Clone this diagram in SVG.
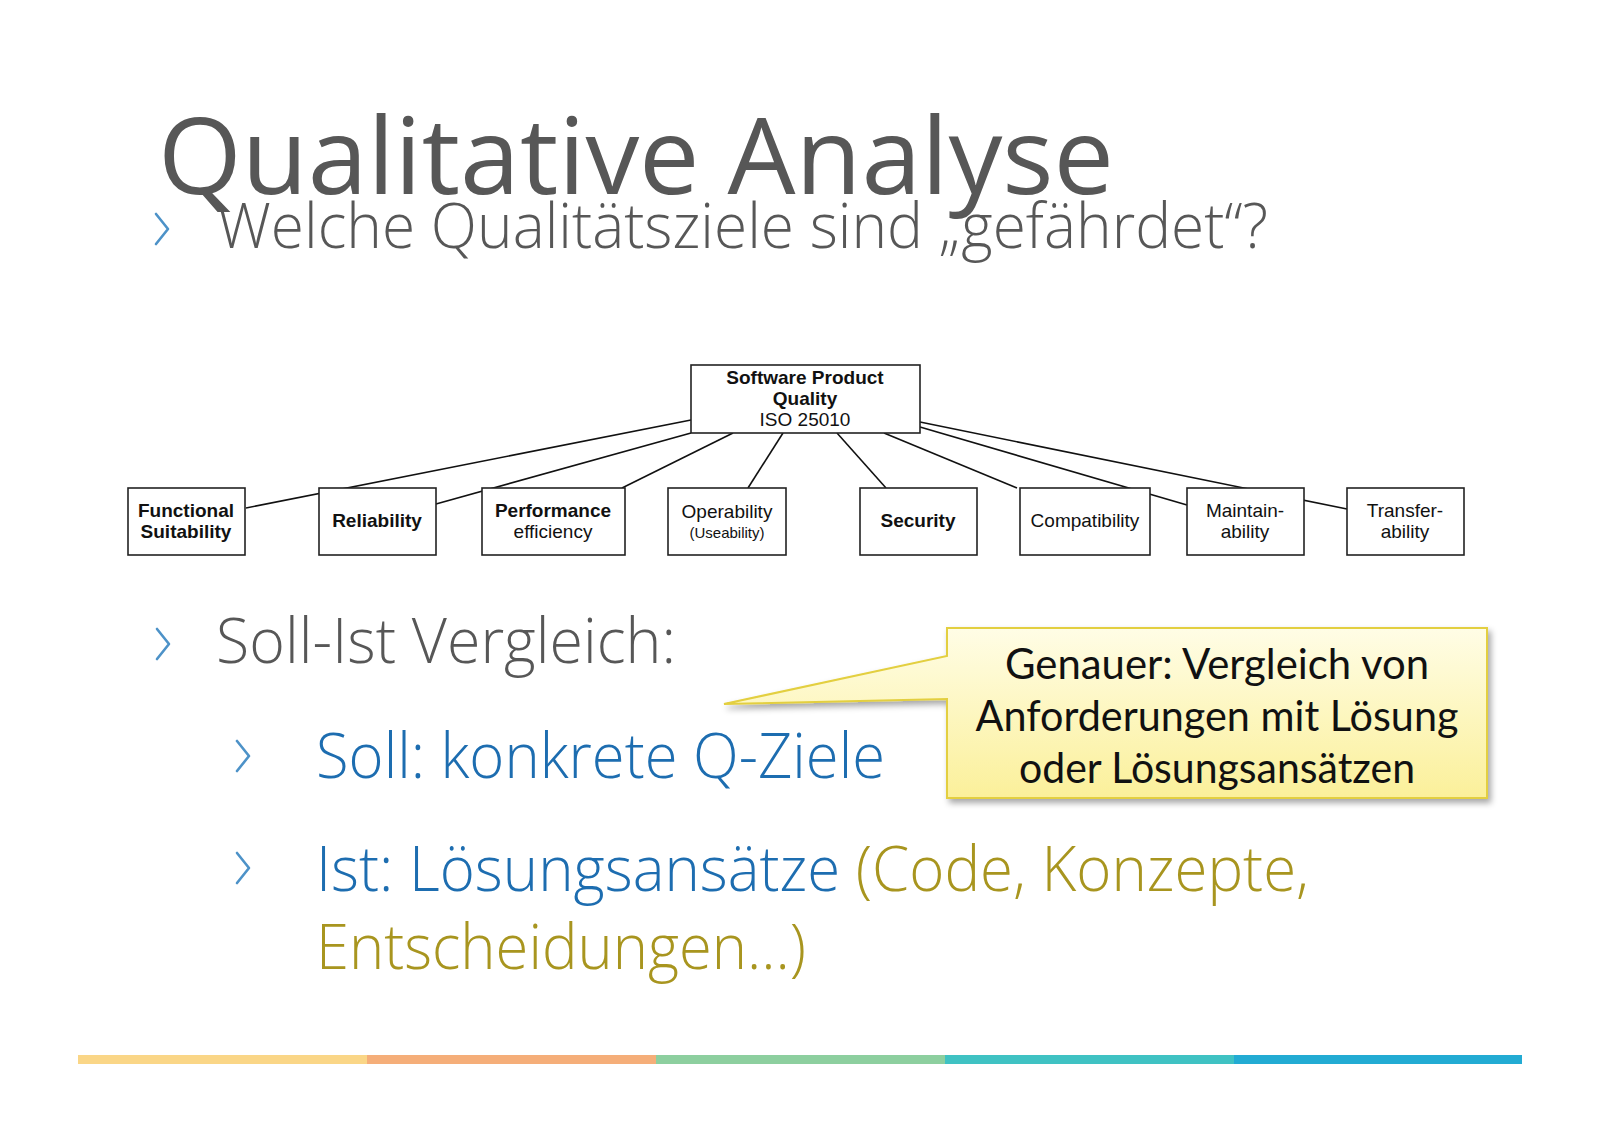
<svg xmlns="http://www.w3.org/2000/svg" width="1600" height="1130" viewBox="0 0 1600 1130">
<defs>
<style>
.title{font-family:"Open Sans","Noto Sans",sans-serif;font-weight:400;fill:#575757}
.sub{font-family:"Open Sans","Noto Sans",sans-serif;font-weight:300;fill:#575757}
.blue{fill:#1d6db0}
.olive{fill:#a8951f}
.chev{fill:none;stroke:#4d92c8;stroke-width:2.6;stroke-linecap:round;stroke-linejoin:round}
.box{fill:#fff;stroke:#222;stroke-width:1.6}
.lbl{font-family:"Liberation Sans",Arial,sans-serif;font-size:19px;fill:#111;text-anchor:middle}
.small{font-size:15px}
.b{font-weight:bold}
.conn line{stroke:#111;stroke-width:1.6}
.call{font-family:"Lato","Open Sans",sans-serif;font-size:42px;fill:#111;text-anchor:middle}
</style>
<linearGradient id="cg" x1="0" y1="0" x2="0" y2="1">
<stop offset="0" stop-color="#fffde6"/>
<stop offset="1" stop-color="#fbf09a"/>
</linearGradient>
<filter id="sh" x="-10%" y="-10%" width="125%" height="130%">
<feDropShadow dx="3" dy="4" stdDeviation="3" flood-color="#000" flood-opacity="0.35"/>
</filter>
</defs>
<rect width="1600" height="1130" fill="#fff"/>

<text class="title" x="158" y="194" font-size="107" textLength="956" lengthAdjust="spacingAndGlyphs">Qualitative Analyse</text>
<path class="chev" d="M156,214 L168,229 L156,244"/>
<text class="sub" x="217" y="248" font-size="62" textLength="1051" lengthAdjust="spacingAndGlyphs">Welche Qualitätsziele sind „gefährdet“?</text>

<g id="connectors" class="conn">
<line x1="691" y1="420" x2="246" y2="508"/>
<line x1="691" y1="433" x2="436" y2="504"/>
<line x1="733" y1="433" x2="622" y2="488"/>
<line x1="783" y1="433" x2="748" y2="488"/>
<line x1="837" y1="433" x2="886" y2="488"/>
<line x1="884" y1="433" x2="1017" y2="488"/>
<line x1="920" y1="427" x2="1187" y2="505"/>
<line x1="920" y1="422" x2="1347" y2="509"/>
</g>

<g id="root">
<rect class="box" x="691" y="365" width="229" height="68"/>
<text class="lbl b" x="805" y="384">Software Product</text>
<text class="lbl b" x="805" y="405">Quality</text>
<text class="lbl" x="805" y="426">ISO 25010</text>
</g>
<g id="functional">
<rect class="box" x="128" y="488" width="117" height="67"/>
<text class="lbl b" x="186" y="517">Functional</text>
<text class="lbl b" x="186" y="538">Suitability</text>
</g>
<g id="reliability">
<rect class="box" x="319" y="488" width="117" height="67"/>
<text class="lbl b" x="377" y="527">Reliability</text>
</g>
<g id="performance">
<rect class="box" x="482" y="488" width="143" height="67"/>
<text class="lbl b" x="553" y="517">Performance</text>
<text class="lbl" x="553" y="538">efficiency</text>
</g>
<g id="operability">
<rect class="box" x="668" y="488" width="118" height="67"/>
<text class="lbl" x="727" y="518">Operability</text>
<text class="lbl small" x="727" y="538">(Useability)</text>
</g>
<g id="security">
<rect class="box" x="860" y="488" width="117" height="67"/>
<text class="lbl b" x="918" y="527">Security</text>
</g>
<g id="compatibility">
<rect class="box" x="1020" y="488" width="130" height="67"/>
<text class="lbl" x="1085" y="527">Compatibility</text>
</g>
<g id="maintainability">
<rect class="box" x="1187" y="488" width="117" height="67"/>
<text class="lbl" x="1245" y="517">Maintain-</text>
<text class="lbl" x="1245" y="538">ability</text>
</g>
<g id="transferability">
<rect class="box" x="1347" y="488" width="117" height="67"/>
<text class="lbl" x="1405" y="517">Transfer-</text>
<text class="lbl" x="1405" y="538">ability</text>
</g>

<path class="chev" d="M157,629 L169,644 L157,659"/>
<text class="sub" x="216" y="663" font-size="63" textLength="460" lengthAdjust="spacingAndGlyphs">Soll-Ist Vergleich:</text>

<path class="chev" d="M237,741 L249,756 L237,771"/>
<text class="sub blue" x="316" y="778" font-size="63" textLength="569" lengthAdjust="spacingAndGlyphs">Soll: konkrete Q-Ziele</text>

<path class="chev" d="M237,853 L249,868 L237,883"/>
<text class="sub" x="316" y="891" font-size="63" textLength="993" lengthAdjust="spacingAndGlyphs"><tspan class="blue">Ist: Lösungsansätze </tspan><tspan class="olive">(Code, Konzepte,</tspan></text>
<text class="sub olive" x="316" y="969" font-size="63" textLength="490" lengthAdjust="spacingAndGlyphs">Entscheidungen…)</text>

<g id="callout">
<path d="M947,628 H1487 V798 H947 V699 L724,704 L947,656 Z" fill="url(#cg)" stroke="#e3cf3f" stroke-width="2" filter="url(#sh)"/>
<text class="call" x="1217" y="679" textLength="424" lengthAdjust="spacingAndGlyphs">Genauer: Vergleich von</text>
<text class="call" x="1217" y="731" textLength="483" lengthAdjust="spacingAndGlyphs">Anforderungen mit Lösung</text>
<text class="call" x="1217" y="783" textLength="396" lengthAdjust="spacingAndGlyphs">oder Lösungsansätzen</text>
</g>

<g id="bar">
<rect x="78" y="1055" width="289" height="9" fill="#fad687"/>
<rect x="367" y="1055" width="289" height="9" fill="#f5ae79"/>
<rect x="656" y="1055" width="289" height="9" fill="#8dcf9f"/>
<rect x="945" y="1055" width="289" height="9" fill="#3fc2c3"/>
<rect x="1234" y="1055" width="288" height="9" fill="#22abd3"/>
</g>
</svg>
